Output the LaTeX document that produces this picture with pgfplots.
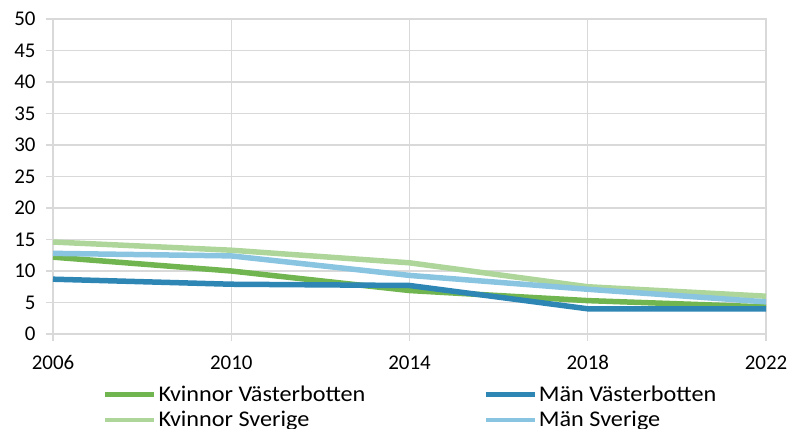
\documentclass[border=0pt]{standalone}
\usepackage{pgfplots}
\pgfplotsset{compat=1.18}
\usepackage{fontspec}
\setmainfont{Carlito}
\newfontfamily\legfont{Carlito}[FakeStretch=1.08]
\definecolor{kv}{HTML}{70B54F}
\definecolor{mv}{HTML}{2E86B4}
\definecolor{ks}{HTML}{AED69B}
\definecolor{ms}{HTML}{89C4E1}
\definecolor{gridc}{HTML}{D9D9D9}
\begin{document}
\begin{tikzpicture}
\useasboundingbox (-53bp,-95bp) rectangle (737bp,334bp);
\begin{axis}[
  at={(0,0)}, anchor=south west,
  scale only axis, width=713bp, height=315bp,
  xmin=2006, xmax=2022, ymin=0, ymax=50,
  xtick={2006,2010,2014,2018,2022}, ytick={0,5,...,50},
  /pgf/number format/.cd, 1000 sep={}, assume math mode=true, /pgfplots/.cd,
  grid=major, grid style={draw=gridc, line width=1.3bp},
  axis line style={draw=gridc, line width=1.3bp},
  major tick style={draw=gridc, line width=1.3bp},
  tick align=outside, major tick length=7bp, tick pos=left,
  xticklabel style={font=\fontsize{21}{25}\selectfont, yshift=-11bp},
  yticklabel style={font=\fontsize{21}{25}\selectfont, xshift=-7bp},
  legend columns=2, legend cell align=left,
  legend style={at={(0.07,-0.158)}, anchor=north west, draw=none, fill=none,
    inner sep=0pt, font=\legfont\fontsize{22.5}{25}\selectfont, row sep=4.5bp,
    /tikz/every even column/.append style={column sep=116bp}},
  legend image code/.code={\draw[#1,line width=4.5bp] (0bp,0bp) -- (49bp,0bp);},
  every axis plot/.append style={line width=5.5bp, line join=round},
]
\addplot[kv] coordinates {(2006,12.2) (2010,10.0) (2014,6.9) (2018,5.3) (2022,4.3)};
\addlegendentry{Kvinnor Västerbotten}
\addplot[mv] coordinates {(2006,8.7) (2010,7.9) (2014,7.7) (2018,4.0) (2022,4.0)};
\addlegendentry{Män Västerbotten}
\addplot[ks] coordinates {(2006,14.6) (2010,13.3) (2014,11.3) (2018,7.5) (2022,6.0)};
\addlegendentry{Kvinnor Sverige}
\addplot[ms] coordinates {(2006,12.8) (2010,12.4) (2014,9.3) (2018,7.1) (2022,5.1)};
\addlegendentry{Män Sverige}
\end{axis}
\end{tikzpicture}
\end{document}
